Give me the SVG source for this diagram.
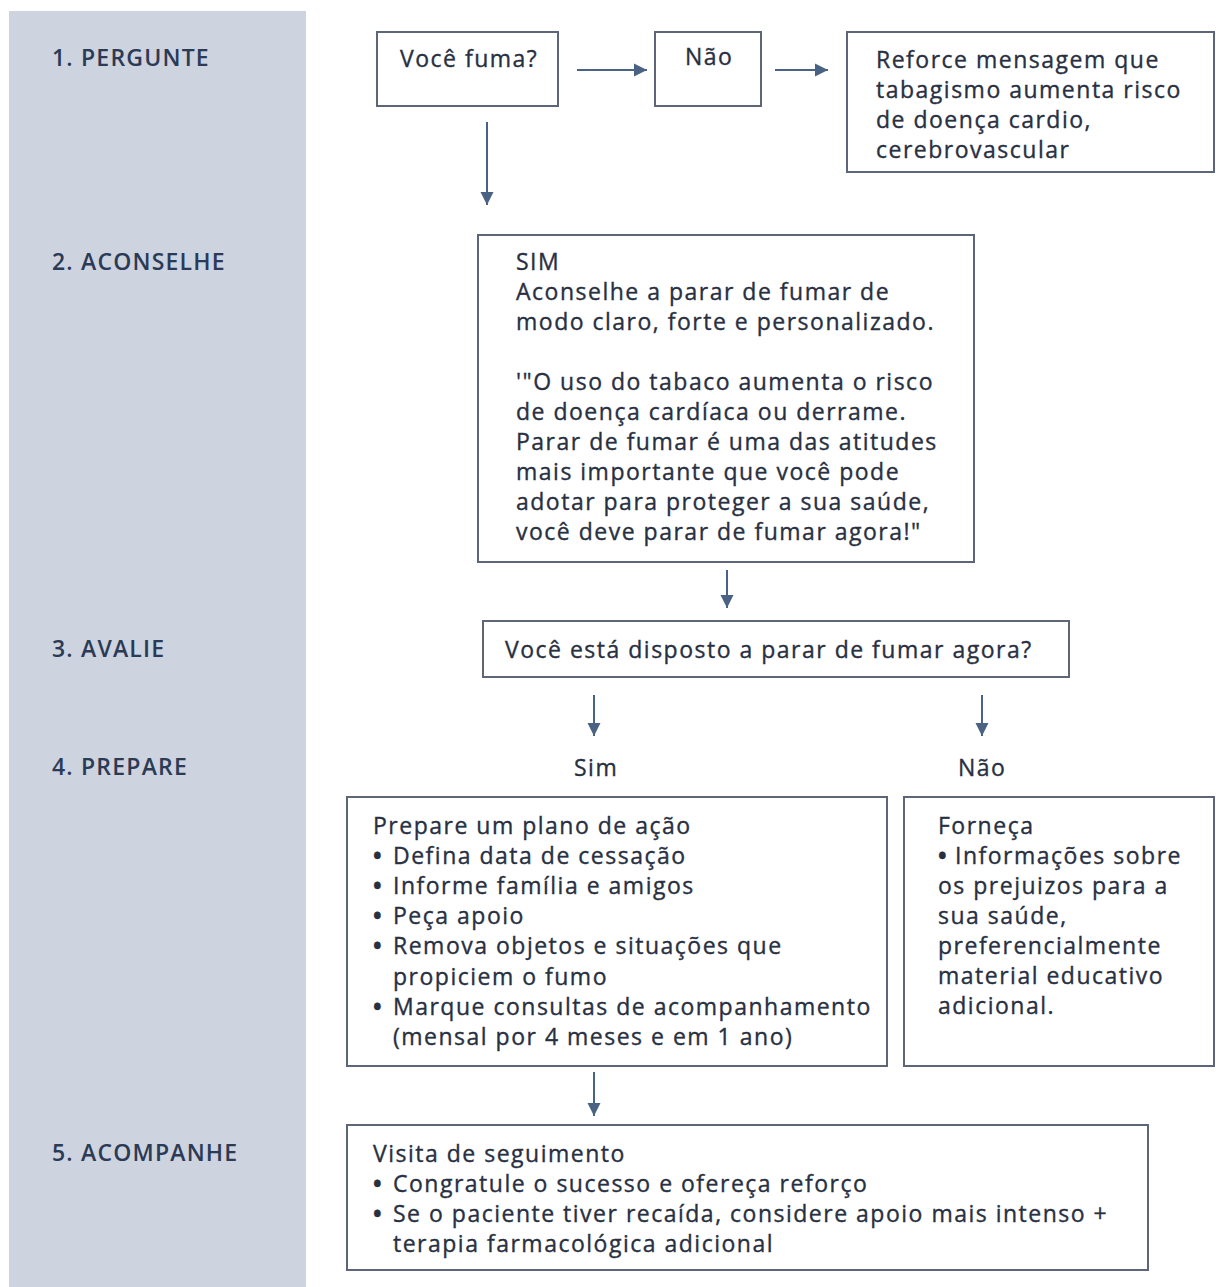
<svg xmlns="http://www.w3.org/2000/svg" width="1216" height="1287" viewBox="0 0 1216 1287">
<defs>
<style>
.t{font-family:"Open Sans","Noto Sans","Liberation Sans",sans-serif;font-size:23px;font-weight:500;letter-spacing:1.5px;fill:#283042;stroke:#283042;stroke-width:0.35px;}
.b{font-weight:700;}
.lbl{font-family:"Open Sans","Noto Sans","Liberation Sans",sans-serif;font-size:23px;font-weight:600;letter-spacing:1.2px;fill:#2b3a55;}
.box{fill:#ffffff;stroke:#5d6679;stroke-width:2;}
.arr{stroke:#4a6384;stroke-width:2;fill:none;marker-end:url(#ah);}
</style>
<marker id="ah" markerUnits="userSpaceOnUse" markerWidth="16" markerHeight="16" refX="13" refY="8" orient="auto">
<path d="M0,1.5 L13,8 L0,14.5 Z" fill="#4a6384"/>
</marker>
</defs>
<rect x="0" y="0" width="1216" height="1287" fill="#ffffff"/>
<rect x="9" y="11" width="297" height="1276" fill="#cdd3df"/>
<g id="labels">
<text class="lbl" x="52" y="66">1. PERGUNTE</text>
<text class="lbl" x="52" y="270">2. ACONSELHE</text>
<text class="lbl" x="52" y="657">3. AVALIE</text>
<text class="lbl" x="52" y="775">4. PREPARE</text>
<text class="lbl" x="52" y="1161">5. ACOMPANHE</text>
</g>
<g id="connectors">
<line class="arr" x1="577" y1="70" x2="647" y2="70"/>
<line class="arr" x1="775" y1="70" x2="828" y2="70"/>
<line class="arr" x1="487" y1="122" x2="487" y2="205"/>
<line class="arr" x1="727" y1="570" x2="727" y2="608"/>
<line class="arr" x1="594" y1="695" x2="594" y2="736"/>
<line class="arr" x1="982" y1="695" x2="982" y2="736"/>
<line class="arr" x1="594" y1="1072" x2="594" y2="1116"/>
</g>
<g id="n_fuma">
<rect class="box" x="377" y="32" width="181" height="74"/>
<text class="t" x="400" y="67">Você fuma?</text>
</g>
<g id="n_nao1">
<rect class="box" x="655" y="32" width="106" height="74"/>
<text class="t" x="685" y="65">Não</text>
</g>
<g id="n_reforce">
<rect class="box" x="847" y="32" width="367" height="140"/>
<text class="t" x="876" y="68">Reforce mensagem que</text>
<text class="t" x="876" y="98">tabagismo aumenta risco</text>
<text class="t" x="876" y="128">de doença cardio,</text>
<text class="t" x="876" y="158">cerebrovascular</text>
</g>
<g id="n_sim">
<rect class="box" x="478" y="235" width="496" height="327"/>
<text class="t" x="516" y="270">SIM</text>
<text class="t" x="516" y="300">Aconselhe a parar de fumar de</text>
<text class="t" x="516" y="330">modo claro, forte e personalizado.</text>
<text class="t" x="516" y="390">'"O uso do tabaco aumenta o risco</text>
<text class="t" x="516" y="420">de doença cardíaca ou derrame.</text>
<text class="t" x="516" y="450">Parar de fumar é uma das atitudes</text>
<text class="t" x="516" y="480">mais importante que você pode</text>
<text class="t" x="516" y="510">adotar para proteger a sua saúde,</text>
<text class="t" x="516" y="540">você deve parar de fumar agora!"</text>
</g>
<g id="n_avalie">
<rect class="box" x="483" y="621" width="586" height="56"/>
<text class="t" x="505" y="658">Você está disposto a parar de fumar agora?</text>
</g>
<g id="l_sim">
<text class="t" x="574" y="776">Sim</text>
</g>
<g id="l_nao">
<text class="t" x="958" y="776">Não</text>
</g>
<g id="n_prepare">
<rect class="box" x="347" y="797" width="540" height="269"/>
<text class="t" x="373" y="834">Prepare um plano de ação</text>
<text class="t" y="864"><tspan class="b" x="373">•</tspan><tspan x="393">Defina data de cessação</tspan></text>
<text class="t" y="894"><tspan class="b" x="373">•</tspan><tspan x="393">Informe família e amigos</tspan></text>
<text class="t" y="924"><tspan class="b" x="373">•</tspan><tspan x="393">Peça apoio</tspan></text>
<text class="t" y="954"><tspan class="b" x="373">•</tspan><tspan x="393">Remova objetos e situações que</tspan></text>
<text class="t" x="393" y="985">propiciem o fumo</text>
<text class="t" y="1015"><tspan class="b" x="373">•</tspan><tspan x="393">Marque consultas de acompanhamento</tspan></text>
<text class="t" x="393" y="1045">(mensal por 4 meses e em 1 ano)</text>
</g>
<g id="n_forneca">
<rect class="box" x="904" y="797" width="310" height="269"/>
<text class="t" x="938" y="834">Forneça</text>
<text class="t" y="864"><tspan class="b" x="938">•</tspan><tspan x="955">Informações sobre</tspan></text>
<text class="t" x="938" y="894">os prejuizos para a</text>
<text class="t" x="938" y="924">sua saúde,</text>
<text class="t" x="938" y="954">preferencialmente</text>
<text class="t" x="938" y="984">material educativo</text>
<text class="t" x="938" y="1014">adicional.</text>
</g>
<g id="n_visita">
<rect class="box" x="347" y="1125" width="801" height="145"/>
<text class="t" x="373" y="1162">Visita de seguimento</text>
<text class="t" y="1192"><tspan class="b" x="373">•</tspan><tspan x="393">Congratule o sucesso e ofereça reforço</tspan></text>
<text class="t" y="1222"><tspan class="b" x="373">•</tspan><tspan x="393">Se o paciente tiver recaída, considere apoio mais intenso +</tspan></text>
<text class="t" x="393" y="1252">terapia farmacológica adicional</text>
</g>
</svg>
